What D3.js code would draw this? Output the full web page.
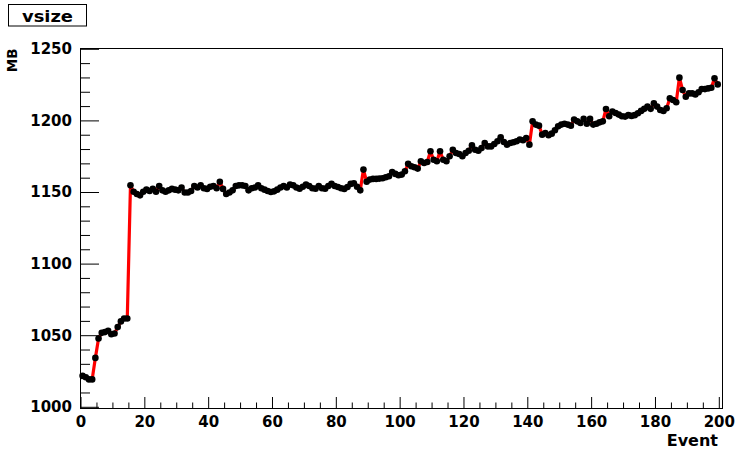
<!DOCTYPE html>
<html><head><meta charset="utf-8">
<script src="https://cdn.jsdelivr.net/npm/d3@7"></script>
<style>
body{margin:0;background:#fff}
svg{display:block}
text{font-family:"DejaVu Sans",sans-serif;font-weight:bold;fill:#000}
</style></head><body>
<svg id="c" width="735" height="451"></svg>
<script>
const title = "vsize";
const xLabel = "Event";
const yLabel = "MB";
const xTickValues = [0, 20, 40, 60, 80, 100, 120, 140, 160, 180, 200];
const yTickValues = [1000, 1050, 1100, 1150, 1200, 1250];
// vsize (MB) per event, events 0..199 plotted at bin centres
const vsize = [
1022,1021,1019.5,1019.5,1034.5,1048,1052,1052.5,1053.5,1051,
1051.5,1056,1060,1062,1062,1155,1150.5,1149,1148,1150.5,
1152,1151,1152.5,1150.5,1154.5,1151.5,1150.5,1151.5,1152.5,1152,
1151.5,1153.5,1150,1150,1151,1154.5,1153.5,1155,1153,1152.5,
1154,1154.5,1153,1157.5,1152.5,1149,1150,1151.5,1154.5,1155,
1155,1154.5,1151.5,1153,1153.5,1155,1153,1152,1151,1150.3,
1150.8,1152,1153.5,1154.5,1153.5,1155.5,1155,1153.5,1152.7,1154,
1155.5,1154.5,1153,1152.7,1154.5,1153,1152.7,1154.5,1156,1154.5,
1153.8,1153,1152.5,1153.8,1156,1156.5,1154,1151.5,1166,1157.5,
1159,1159.5,1159.5,1159.7,1160,1160.6,1161.3,1164.3,1163,1162,
1162.5,1164.8,1170,1168.3,1167.6,1166.7,1171.8,1170.6,1171.3,1178.8,
1172.9,1171.8,1178.8,1172.9,1171.8,1175.3,1179.9,1177.6,1176.9,1175.3,
1177.6,1179.2,1182.9,1179.9,1179.2,1181,1184.6,1182.2,1182.2,1183.9,
1185.8,1188.5,1185.3,1183.4,1184.6,1185.1,1185.8,1187,1186.5,1188.1,
1183.4,1199.7,1197.4,1196.7,1190.4,1191.6,1190,1191.1,1193.5,1196.2,
1197.4,1198,1197.4,1196.7,1200.9,1199.7,1198.5,1201.4,1198,1201.4,
1197.4,1198,1199,1199.7,1208.3,1203.2,1206.6,1205.5,1204.4,1203.2,
1203,1204,1203.5,1204,1205.3,1207,1208.4,1210,1208.4,1212.3,
1210,1207.6,1207,1208.8,1215.8,1214.6,1213,1230.2,1221.6,1216.9,
1219.2,1219.2,1218.5,1220,1222.2,1222.2,1222.7,1223.2,1229.7,1225.5
];
const eventCenters = vsize.map((_, i) => i + 0.5);

const svg = d3.select("#c");
const x = d3.scaleLinear().domain([0, 200]).range([81, 719.3]);
const y = d3.scaleLinear().domain([1000, 1250]).range([407.3, 49.3]);

const frame = {left: 80.5, right: 722.5, top: 48.5, bottom: 408.5};

// data: line then markers
const line = d3.line().x((d, i) => x(eventCenters[i])).y(d => y(d));
svg.append("path").datum(vsize).attr("d", line)
  .attr("fill", "none").attr("stroke", "#ff0000").attr("stroke-width", 3.2)
  .attr("stroke-linejoin", "round");
svg.append("g").selectAll("circle").data(vsize).join("circle")
  .attr("cx", (d, i) => x(eventCenters[i])).attr("cy", d => y(d))
  .attr("r", 3.3).attr("fill", "#000");

// frame
svg.append("rect").attr("x", frame.left).attr("y", frame.top)
  .attr("width", frame.right - frame.left).attr("height", frame.bottom - frame.top)
  .attr("fill", "none").attr("stroke", "#000").attr("stroke-width", 1);

// x axis
const xMinor = d3.range(0, 201, 5).filter(v => v % 20 !== 0);
const gx = svg.append("g").attr("transform", `translate(-0.5,${frame.bottom - 0.5})`);
gx.call(d3.axisBottom(x).tickValues(xTickValues).tickSize(-11).tickPadding(8).tickFormat(d3.format("d")));
gx.select(".domain").remove();
gx.selectAll("text").style("font-size", "15px").attr("font-family", null);
const gxm = svg.append("g").attr("transform", `translate(-0.5,${frame.bottom - 0.5})`);
gxm.call(d3.axisBottom(x).tickValues(xMinor).tickSize(-5.5).tickFormat(""));
gxm.select(".domain").remove();

// y axis
const yMinor = d3.range(1000, 1251, 10).filter(v => v % 50 !== 0);
const gy = svg.append("g").attr("transform", `translate(${frame.left - 0.5},-0.5)`);
gy.call(d3.axisLeft(y).tickValues(yTickValues).tickSize(-19).tickPadding(8).tickFormat(d3.format("d")));
gy.select(".domain").remove();
gy.selectAll("text").style("font-size", "15px").attr("font-family", null);
const gym = svg.append("g").attr("transform", `translate(${frame.left - 0.5},-0.5)`);
gym.call(d3.axisLeft(y).tickValues(yMinor).tickSize(-10).tickFormat(""));
gym.select(".domain").remove();
svg.selectAll(".tick line").attr("stroke", "#000");

// axis titles
svg.append("text").attr("x", 718).attr("y", 446).attr("text-anchor", "end")
  .style("font-size", "16px").text(xLabel);
svg.append("text").attr("transform", "translate(17,48.5) rotate(-90)")
  .attr("text-anchor", "end").style("font-size", "13.5px").text(yLabel);

// title box
svg.append("rect").attr("x", 8.5).attr("y", 4.5).attr("width", 78).attr("height", 21.5)
  .attr("fill", "#fff").attr("stroke", "#000").attr("stroke-width", 1);
svg.append("text").attr("x", 47.5).attr("y", 22).attr("text-anchor", "middle")
  .style("font-size", "16px").attr("textLength", 51).attr("lengthAdjust", "spacingAndGlyphs")
  .text(title);
</script></body></html>
